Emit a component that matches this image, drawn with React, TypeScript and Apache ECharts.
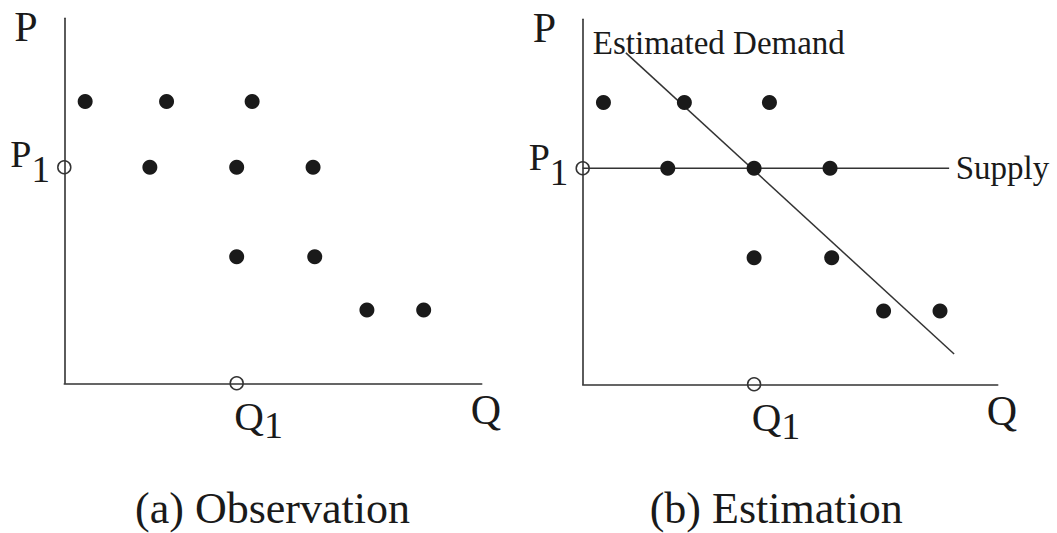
import React, { useEffect, useRef } from "react";
import * as echarts from "echarts";

// Observed (Q, P) points, same in both panels (axis units 0..100)
const dotQ = [5, 24.5, 45, 20.5, 41.3, 59.6, 41.3, 60, 72.5, 86.1];
const dotP = [77.2, 77.2, 77.2, 59.2, 59.2, 59.2, 34.7, 34.7, 20.1, 20.1];
const P1 = 59.2;
const Q1 = 41.3;
// Lines in panel (b)
const supplyQ = [0, 88.3];
const supplyP = [59.2, 59.2];
const demandQ = [10.4, 89.5];
const demandP = [90.8, 8.3];
// Texts
const panelTitles = ["(a) Observation", "(b) Estimation"];
const axisNames = ["P", "Q"];
const markNames = ["P", "Q"];
const markSub = "1";
const demandLabel = "Estimated Demand";
const supplyLabel = "Supply";

const FONT = "Liberation Serif";
const INK = "#1a1a1a";
const AXIS = "#333333";

export default function App() {
  const ref = useRef<HTMLDivElement>(null);

  useEffect(() => {
    document.body.style.margin = "0";
    const el = ref.current;
    if (!el) return;
    const chart = echarts.init(el, undefined, { renderer: "svg" });

    const grids = [
      { left: 64.3, top: 18.3, width: 417.4, height: 365 },
      { left: 582.7, top: 19.3, width: 415, height: 365 },
    ];
    const axisCommon = {
      type: "value",
      min: 0,
      max: 100,
      axisLine: { show: true, onZero: false, lineStyle: { color: AXIS, width: 1.6 } },
      axisTick: { show: false },
      axisLabel: { show: false },
      splitLine: { show: false },
    };
    const dots = dotQ.map((q, i) => [q, dotP[i]]);
    const series: any[] = [];
    series.push({
      type: "line",
      xAxisIndex: 1,
      yAxisIndex: 1,
      data: supplyQ.map((q, i) => [q, supplyP[i]]),
      showSymbol: false,
      lineStyle: { color: AXIS, width: 1.5 },
      silent: true,
      z: 2,
    });
    series.push({
      type: "line",
      xAxisIndex: 1,
      yAxisIndex: 1,
      data: demandQ.map((q, i) => [q, demandP[i]]),
      showSymbol: false,
      lineStyle: { color: AXIS, width: 1.5 },
      silent: true,
      z: 2,
    });
    [0, 1].forEach((g) => {
      series.push({
        type: "scatter",
        xAxisIndex: g,
        yAxisIndex: g,
        data: dots,
        symbol: "circle",
        symbolSize: 15,
        itemStyle: { color: INK, opacity: 1 },
        clip: false,
        silent: true,
        z: 3,
      });
      series.push({
        type: "scatter",
        xAxisIndex: g,
        yAxisIndex: g,
        data: [
          [0, P1],
          [Q1, 0],
        ],
        symbol: "circle",
        symbolSize: 13,
        itemStyle: { color: "transparent", borderColor: AXIS, borderWidth: 1.5, opacity: 1 },
        clip: false,
        silent: true,
        z: 3,
      });
    });

    chart.setOption({
      animation: false,
      backgroundColor: "#ffffff",
      grid: grids,
      xAxis: [0, 1].map((g) => ({ ...axisCommon, gridIndex: g })),
      yAxis: [0, 1].map((g) => ({ ...axisCommon, gridIndex: g })),
      series,
    });

    const px = (g: number, q: number, p: number) =>
      chart.convertToPixel({ gridIndex: g } as any, [q, p]) as number[];

    const txt = (x: number, baseline: number, s: string, fs: number, align = "left") => ({
      type: "text",
      x,
      y: baseline - 0.34 * fs,
      silent: true,
      style: {
        text: s,
        fontFamily: FONT,
        fontSize: fs,
        fill: INK,
        align,
        verticalAlign: "middle",
      },
    });

    // main letter with a lowered "1" subscript, as one rich text
    const subTxt = (
      x: number,
      baseline: number,
      main: string,
      fsMain: number,
      fsSub: number,
      drop: number
    ) => {
      const pt = 2 * (drop - 0.34 * fsSub + 0.34 * fsMain);
      return {
        type: "text",
        x,
        y: baseline - 0.34 * fsMain,
        silent: true,
        style: {
          text: `{a|${main}}{b|${markSub}}`,
          align: "left",
          verticalAlign: "middle",
          rich: {
            a: { fontFamily: FONT, fontSize: fsMain, fill: INK, verticalAlign: "middle" },
            b: {
              fontFamily: FONT,
              fontSize: fsSub,
              fill: INK,
              verticalAlign: "middle",
              padding: [pt, 0, 0, 0],
            },
          },
        },
      };
    };

    const elements: any[] = [];
    const titleShift = [-0.5, -14];
    [0, 1].forEach((g) => {
      const o = px(g, 0, 0);
      const top = px(g, 0, 100);
      const end = px(g, 100, 0);
      const p1 = px(g, 0, P1);
      const q1 = px(g, Q1, 0);
      elements.push(txt(o[0] - 50, top[1] + 23.4, axisNames[0], 42));
      elements.push(txt(end[0] - 11, o[1] + 40.5, axisNames[1], 42));
      elements.push(subTxt(p1[0] - 54, p1[1] + (g === 0 ? 0 : 2), markNames[0], 38, 37, 15));
      elements.push(subTxt(q1[0] - 2.4, q1[1] + 46.3, markNames[1], 41, 38, 8.5));
      elements.push(txt((o[0] + end[0]) / 2 + titleShift[g], 523.3, panelTitles[g], 44, "center"));
    });
    const ds = px(1, demandQ[0], demandP[0]);
    elements.push(txt(ds[0] - 33, ds[1] + 1.3, demandLabel, 33));
    const se = px(1, supplyQ[1], supplyP[1]);
    elements.push(txt(se[0] + 6.6, se[1] + 10.7, supplyLabel, 33));

    chart.setOption({ graphic: { elements } });

    return () => chart.dispose();
  }, []);

  return <div ref={ref} style={{ width: 1057, height: 533 }} />;
}
